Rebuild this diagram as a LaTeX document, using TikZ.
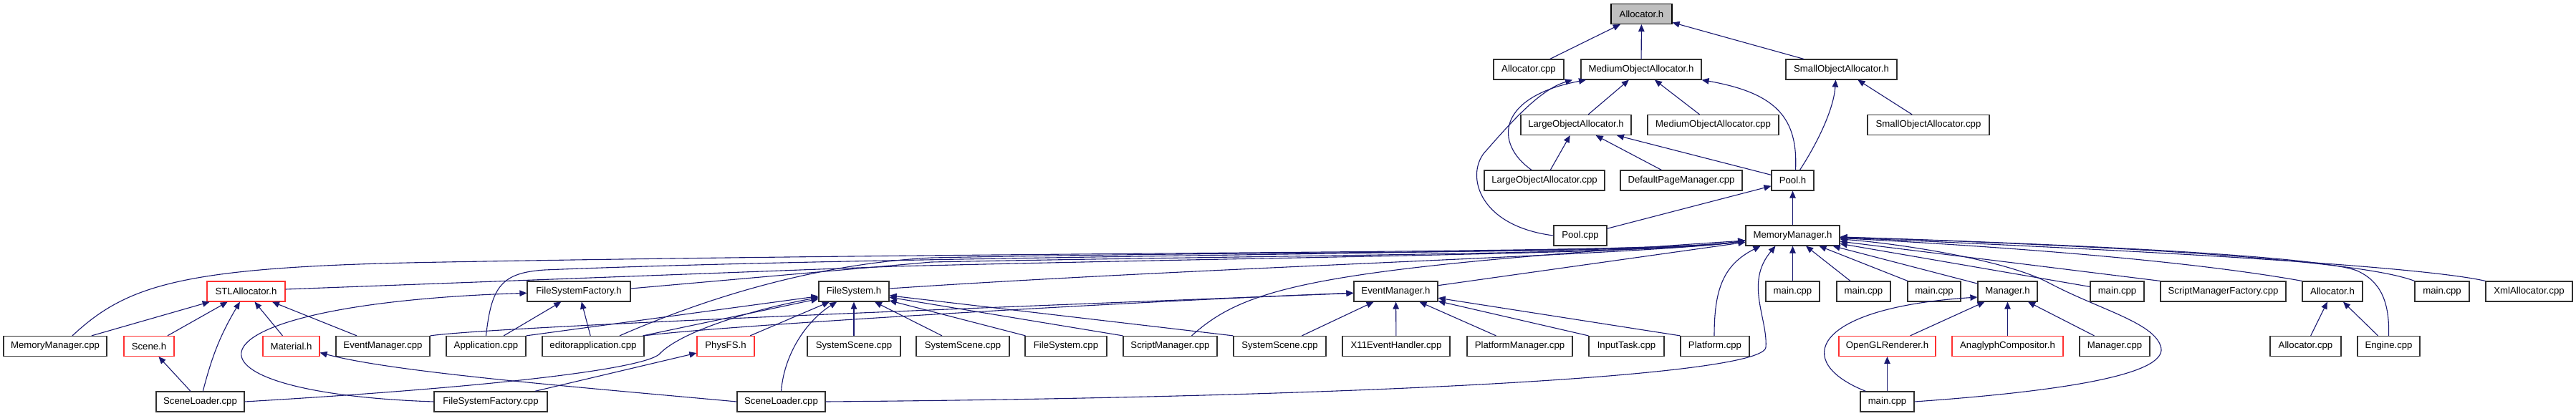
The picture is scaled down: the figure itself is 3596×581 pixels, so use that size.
\documentclass[tikz,border=0pt]{standalone}
\usepackage{fontspec}
\setmainfont{Liberation Sans}
\usetikzlibrary{arrows.meta}
\definecolor{depblue}{RGB}{25,25,112}
\definecolor{boxdark}{RGB}{48,48,48}
\definecolor{boxred}{RGB}{255,48,48}
\definecolor{rootgray}{RGB}{191,191,191}
\tikzset{
  filebox/.style={rectangle, draw=boxdark, fill=white, minimum height=28pt,
    inner sep=0pt, line width=1.2pt, font=\fontsize{13.2}{15}\selectfont},
  rootbox/.style={filebox, draw=black, fill=rootgray},
  dep/.style={-{Triangle[length=10pt,width=8.5pt]}, line width=1.1pt, color=depblue}
}

\begin{document}
\begin{tikzpicture}[x=1pt, y=-1pt]
  \useasboundingbox (0,0) rectangle (3596,581);

  % Root header
  \node[rootbox, minimum width=85pt] (allocH) at (2291.5,19.5) {Allocator.h};

  % Allocator family, levels 1 to 4
  \foreach \n/\x/\y/\w/\lbl in {allocCpp/2134/97/98/Allocator.cpp, medH/2291/97/168/MediumObjectAllocator.h,
      smallH/2570.5/97/155/SmallObjectAllocator.h, largeH/2200/174.5/154/LargeObjectAllocator.h,
      medCpp/2391.5/174.5/183/MediumObjectAllocator.cpp, smallCpp/2692/174.5/170/SmallObjectAllocator.cpp,
      largeCpp/2156/252/168/LargeObjectAllocator.cpp, defPage/2347/252/170/DefaultPageManager.cpp,
      poolH/2502.5/252/59/Pool.h, poolCpp/2206/329/74/Pool.cpp, memH/2502.5/329/131/MemoryManager.h}
    \node[filebox, minimum width=\w pt] (\n) at (\x,\y) {\lbl};

  % Row of MemoryManager.h users
  \foreach \n/\x/\w/\c/\lbl in {stlH/343.5/109/boxred/STLAllocator.h, fsfH/808/144/boxdark/FileSystemFactory.h,
      fsH/1192/98/boxdark/FileSystem.h, evH/1948.5/117/boxdark/EventManager.h,
      mainA/2502.5/75/boxdark/main.cpp, mainB/2601.5/75/boxdark/main.cpp, mainC/2700/74/boxdark/main.cpp,
      mgrH/2802.5/83/boxdark/Manager.h, mainD/2955.5/75/boxdark/main.cpp,
      smfCpp/3103.5/175/boxdark/ScriptManagerFactory.cpp, alloc2H/3256/84/boxdark/Allocator.h,
      mainE/3409/76/boxdark/main.cpp, xmlCpp/3530.5/121/boxdark/XmlAllocator.cpp}
    \node[filebox, draw=\c, minimum width=\w pt] (\n) at (\x,407) {\lbl};

  % Second row of users
  \foreach \n/\x/\w/\c/\lbl in {mmCpp/77/144/boxdark/MemoryManager.cpp, sceneH/208/70/boxred/Scene.h,
      materialH/406.5/79/boxred/Material.h, evCpp/534.5/131/boxdark/EventManager.cpp,
      appCpp/678.5/111/boxdark/Application.cpp, edCpp/828/142/boxdark/editorapplication.cpp,
      physH/1013/80/boxred/PhysFS.h, ssA/1192/130/boxdark/SystemScene.cpp, ssB/1344/130/boxdark/SystemScene.cpp,
      fsCpp/1488/114/boxdark/FileSystem.cpp, smCpp/1633.5/131/boxdark/ScriptManager.cpp,
      ssC/1786.5/129/boxdark/SystemScene.cpp, x11Cpp/1949/150/boxdark/X11EventHandler.cpp,
      pmCpp/2121.5/147/boxdark/PlatformManager.cpp, itCpp/2270.5/105/boxdark/InputTask.cpp,
      platCpp/2394/96/boxdark/Platform.cpp, oglH/2634.5/135/boxred/OpenGLRenderer.h,
      anaH/2802.5/155/boxred/AnaglyphCompositor.h, mgrCpp/2952/98/boxdark/Manager.cpp,
      alloc2Cpp/3218.5/99/boxdark/Allocator.cpp, engCpp/3334.5/87/boxdark/Engine.cpp}
    \node[filebox, draw=\c, minimum width=\w pt] (\n) at (\x,483.5) {\lbl};

  % Bottom row
  \foreach \n/\x/\w/\lbl in {slA/279.5/123/SceneLoader.cpp, fsfCpp/685/158/FileSystemFactory.cpp,
      slB/1090.5/123/SceneLoader.cpp, mainF/2634.5/75/main.cpp}
    \node[filebox, minimum width=\w pt] (\n) at (\x,561) {\lbl};

  % Straight include edges
  \foreach \src/\dst in {allocCpp/allocH, medH/allocH, smallH/allocH, largeH/medH, medCpp/medH,
      largeCpp/largeH, defPage/largeH, poolH/largeH, smallCpp/smallH, poolCpp/poolH, memH/poolH,
      mmCpp/stlH, sceneH/stlH, materialH/stlH, evCpp/stlH, slA/sceneH, appCpp/fsfH, edCpp/fsfH,
      fsfCpp/physH, edCpp/fsH, physH/fsH, ssA/fsH, ssB/fsH, fsCpp/fsH, ssC/evH, x11Cpp/evH,
      pmCpp/evH, evH/memH, mainA/memH, mainB/memH, mainC/memH, mgrH/memH, mainD/memH,
      oglH/mgrH, anaH/mgrH, mgrCpp/mgrH, mainF/oglH, alloc2Cpp/alloc2H, engCpp/alloc2H}
    \draw[dep] (\src) -- (\dst);
  \draw[dep] (appCpp.north east) -- (fsH);
  \draw[dep] (smCpp.north west) -- (fsH);
  \draw[dep] (ssC.north west) -- (fsH);
  \draw[dep] (itCpp.north west) -- (evH);
  \draw[dep] (platCpp.north west) -- (evH);
  \draw[dep] (smfCpp.north west) -- (memH);
  \draw[dep] (slA) to[bend left=8] (stlH);

  % Curved edges near the allocators
  \draw[dep] ([xshift=4pt]poolH.north) .. controls (2510,165) and (2480,130) .. (medH.south east);
  \draw[dep] ([xshift=10pt]poolH.north) .. controls (2540,195) and (2560,150) .. ([xshift=-8pt]smallH.south);
  \draw[dep] ([xshift=-18pt]largeCpp.north) .. controls (2085,200) and (2090,135) .. ([xshift=-77pt]medH.south);
  \draw[dep] (poolCpp.west) .. controls (2060,315) and (2045,240) .. (2075,210)
    .. controls (2110,170) and (2150,125) .. ([xshift=-96pt]medH.south);

  % Long edges into MemoryManager.h from the left
  \draw[dep] ([xshift=24pt]mmCpp.north) .. controls (180,395) and (260,372) .. (620,366)
    .. controls (1500,350) and (2320,355) .. ([yshift=-7pt]memH.west);
  \draw[dep] ([yshift=3pt]stlH.east) -- (1250,372) .. controls (1800,358) and (2320,355) .. ([yshift=-7pt]memH.west);
  \draw[dep] (appCpp.north) .. controls (686,400) and (700,381) .. (760,377)
    .. controls (1300,355) and (2320,355) .. ([yshift=-7pt]memH.west);
  \draw[dep] ([yshift=4pt]fsfH.east) -- (1300,366) .. controls (1800,356) and (2320,355) .. ([yshift=-7pt]memH.west);
  \draw[dep] ([xshift=37pt]edCpp.north) .. controls (1000,410) and (1150,368) .. (1300,360)
    .. controls (1800,350) and (2320,355) .. ([yshift=-7pt]memH.west);
  \draw[dep] ([yshift=4pt]fsH.east) .. controls (1700,372) and (2320,355) .. ([yshift=-7pt]memH.west);
  \draw[dep] ([xshift=30pt]smCpp.north) .. controls (1740,400) and (1840,375) .. ([yshift=-7pt]memH.west);

  % Edges from below and from the right into MemoryManager.h
  \draw[dep] ([xshift=-1pt]platCpp.north) .. controls (2393,405) and (2405,370) .. ([xshift=-45pt]memH.south);
  \draw[dep] (slB.east) .. controls (1900,555) and (2462,525) .. (2465,485)
    .. controls (2468,445) and (2435,395) .. ([xshift=-24pt]memH.south);
  \draw[dep] (mainF.east) .. controls (2900,545) and (3030,520) .. (3016,483)
    .. controls (3005,450) and (2930,432) .. (2860,395) .. controls (2800,363) and (2650,340) .. (memH);
  \draw[dep] (alloc2H.north west) .. controls (3100,372) and (2900,350) .. (memH);
  \draw[dep] (mainE.north west) .. controls (3300,365) and (3000,345) .. (memH);
  \draw[dep] (xmlCpp.north west) .. controls (3380,372) and (3000,350) .. (memH);
  \draw[dep] (engCpp.north) .. controls (3336,420) and (3322,392) .. (3290,378)
    .. controls (3230,355) and (2800,338) .. (memH);

  % Remaining curved edges
  \draw[dep] (fsfCpp.west) .. controls (220,548) and (240,425) .. (fsfH);
  \draw[dep] (slA.east) .. controls (700,540) and (895,515) .. (920,495)
    .. controls (950,462) and (1060,430) .. (fsH);
  \draw[dep] (slB.north) .. controls (1095,490) and (1130,445) .. (fsH);
  \draw[dep] (slB.west) .. controls (800,540) and (550,520) .. ([yshift=-9pt]materialH.east);
  \draw[dep] (evCpp.north east) .. controls (700,455) and (1500,425) .. (evH);
  \draw[dep] (edCpp.north east) .. controls (1000,455) and (1600,420) .. (evH);
  \draw[dep] ([xshift=-30pt]mainF.north) .. controls (2500,505) and (2530,430) .. ([yshift=-8pt]mgrH.west);
\end{tikzpicture}
\end{document}
